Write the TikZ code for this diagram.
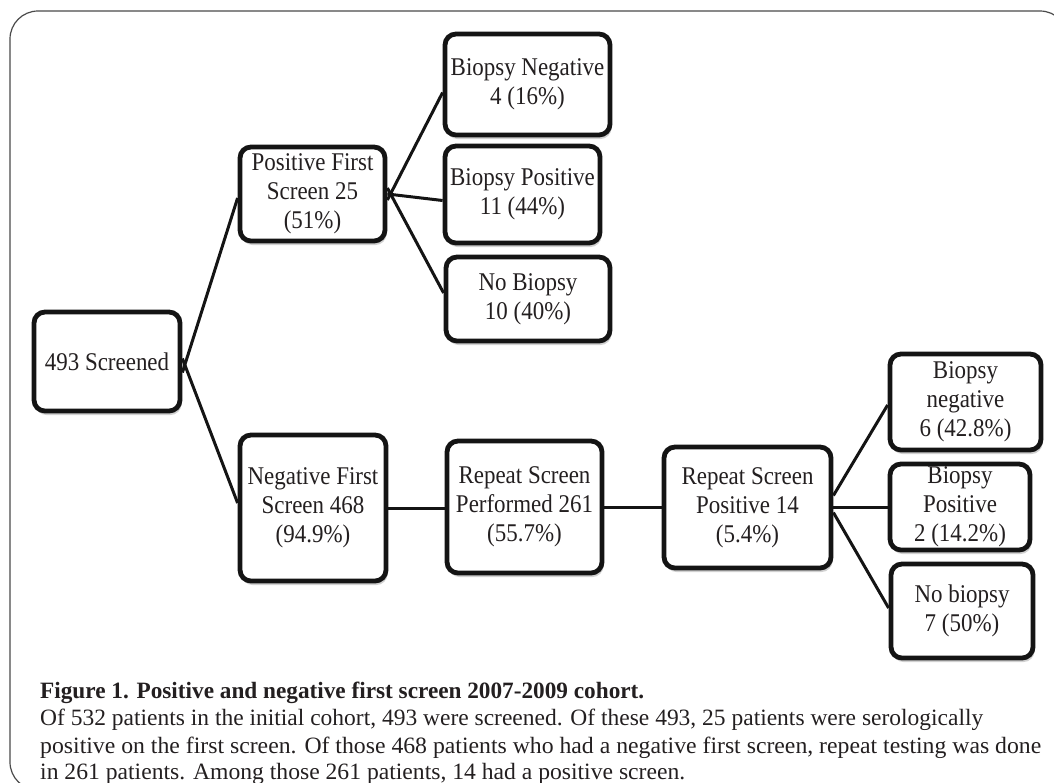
\documentclass[tikz,border=0pt]{standalone}
\usepackage{fontspec}
\usepackage{graphicx}
\setmainfont{Liberation Serif}
\newfontfamily\boxfont[FakeStretch=0.9]{Liberation Serif}
\usetikzlibrary{shadows}
\definecolor{ink}{HTML}{231F20}
\definecolor{boxline}{HTML}{141414}
\definecolor{framec}{HTML}{4A4A4A}
\tikzset{
  box/.style={draw=boxline, line width=4.8pt, rounded corners=11pt, fill=white,
    align=center, inner sep=0pt, text=ink, font=\boxfont\fontsize{25.5}{29}\selectfont,
    drop shadow={shadow xshift=1.5pt, shadow yshift=-4pt, fill=black!30, opacity=0.6}},
  link/.style={draw=boxline, line width=3pt},
  captext/.style={anchor=base west, inner sep=0pt, text=ink, font=\fontsize{23.4}{27}\selectfont},
}
\begin{document}
\begin{tikzpicture}[x=1pt,y=-1pt]
\useasboundingbox (0,0) rectangle (1054,782);
\begin{scope}
  \clip (0,0) rectangle (1054,782);
  \draw[framec, line width=1.2pt, rounded corners=28pt] (10,11) rectangle (1068,790);
\end{scope}

% boxes
\node[box, minimum width=146pt, minimum height=99pt] (scr) at (107,361.5) {493 Screened};
\node[box, minimum width=145pt, minimum height=94pt] (pos) at (312.5,194) {Positive First\\Screen 25\\(51\%)};
\node[box, minimum width=146pt, minimum height=146pt] (neg) at (313,508) {Negative First\\Screen 468\\(94.9\%)};
\node[box, minimum width=165pt, minimum height=101pt] (bn) at (527.5,84.5) {Biopsy Negative\\4 (16\%)};
\node[box, minimum width=155pt, minimum height=97pt] (bp) at (522.5,194.5) {Biopsy Positive\\11 (44\%)};
\node[box, minimum width=164pt, minimum height=84pt] (nb) at (528,299) {No Biopsy\\10 (40\%)};
\node[box, minimum width=155pt, minimum height=132pt] (rp) at (524.5,507) {Repeat Screen\\Performed 261\\(55.7\%)};
\node[box, minimum width=167pt, minimum height=121pt] (rq) at (747.5,507.5) {Repeat Screen\\Positive 14\\(5.4\%)};
\node[box, minimum width=151pt, minimum height=96pt] (bn2) at (965.5,402) {Biopsy\\negative\\6 (42.8\%)};
\node[box, minimum width=140pt, minimum height=86pt] (bp2) at (960,507) {Biopsy\\Positive\\2 (14.2\%)};
\node[box, minimum width=142pt, minimum height=94pt] (nb2) at (962,611) {No biopsy\\7 (50\%)};

% connectors
\draw[link] ([yshift=-11pt]scr.east) -- ([yshift=-4pt]pos.west);
\draw[link] ([yshift=3pt]scr.east) -- ([yshift=5pt]neg.west);
\draw[link] ([yshift=-6pt]pos.east) -- ([yshift=-8pt]bn.west);
\draw[link] (pos.east) -- ([yshift=-6pt]bp.west);
\draw[link] ([yshift=6pt]pos.east) -- ([yshift=6pt]nb.west);
\draw[link] (neg.east) -- (neg.east -| rp.west);
\draw[link] (rp.east) -- (rp.east -| rq.west);
\draw[link] ([yshift=12pt]rq.east) -- ([yshift=-3pt]bn2.west);
\draw[link] (rq.east) -- (rq.east -| bp2.west);
\draw[link] ([yshift=-5pt]rq.east) -- ([yshift=3pt]nb2.west);

% caption
\node[captext, font=\fontsize{23.4}{27}\selectfont\bfseries] (c1) at (40,698) {\resizebox{604pt}{\height}{Figure 1. Positive and negative first screen 2007-2009 cohort.}};
\node[captext] (c2) at (40,725) {\resizebox{943pt}{\height}{Of 532 patients in the initial cohort, 493 were screened. Of these 493, 25 patients were serologically}};
\node[captext] (c3) at (40,753) {\resizebox{1001pt}{\height}{positive on the first screen. Of those 468 patients who had a negative first screen, repeat testing was done}};
\node[captext] (c4) at (40,779) {\resizebox{645pt}{\height}{in 261 patients. Among those 261 patients, 14 had a positive screen.}};
\end{tikzpicture}
\end{document}
